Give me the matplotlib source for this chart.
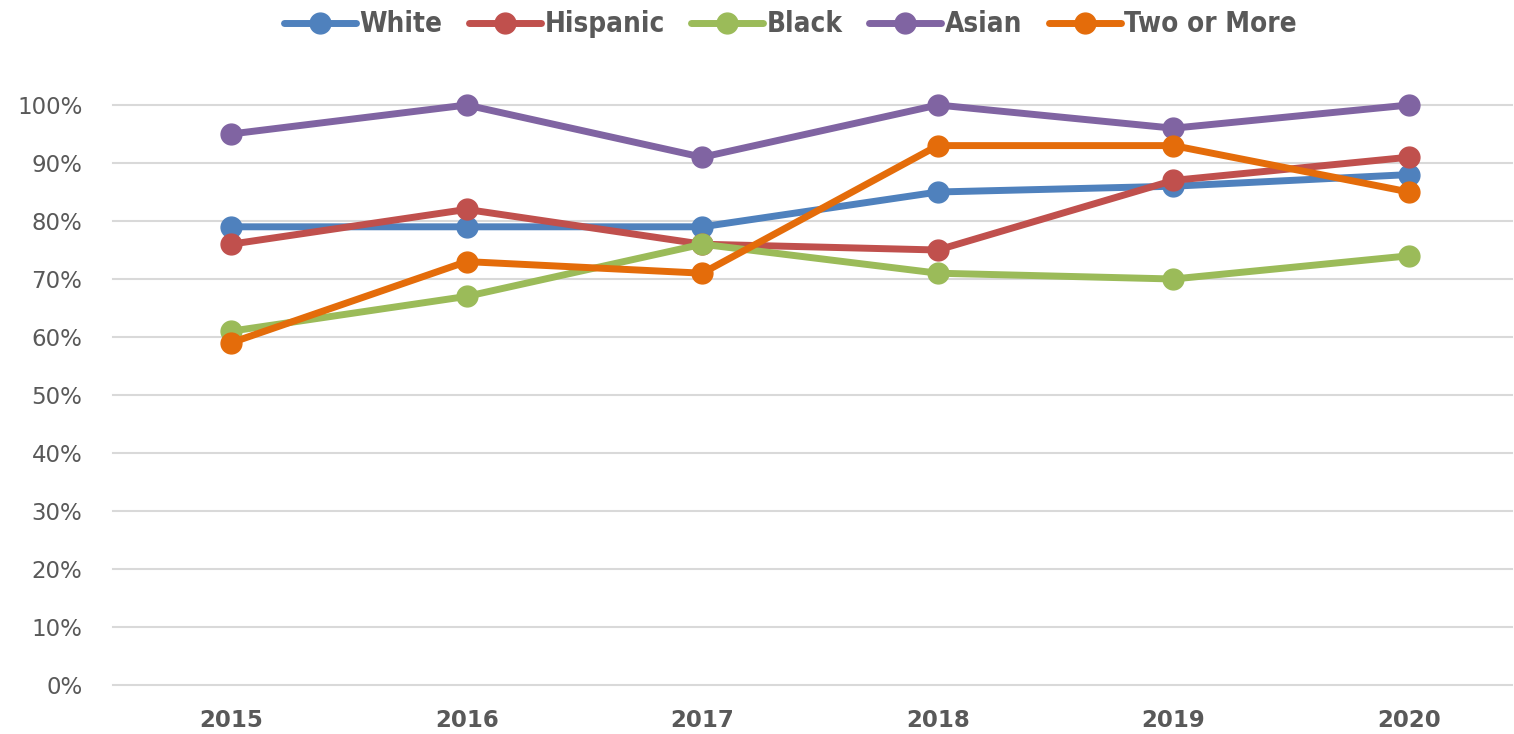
import matplotlib
matplotlib.use("Agg")
import matplotlib.pyplot as plt
from matplotlib.ticker import FuncFormatter

# ===== data =====
years = ["2015", "2016", "2017", "2018", "2019", "2020"]
white    = [79, 79, 79, 85, 86, 88]
hispanic = [76, 82, 76, 75, 87, 91]
black    = [61, 67, 76, 71, 70, 74]
asian    = [95, 100, 91, 100, 96, 100]
two_more = [59, 73, 71, 93, 93, 85]

series_names  = ["White", "Hispanic", "Black", "Asian", "Two or More"]
series_values = [white, hispanic, black, asian, two_more]
series_colors = ["#4F81BD", "#C0504D", "#9BBB59", "#8064A2", "#E46C0A"]
# =======================================

TEXT = "#595959"
GRID = "#D9D9D9"


def main():
    fig = plt.figure(figsize=(15.14, 7.34), dpi=100)
    ax = fig.add_axes([113 / 1514, 49 / 734, (1512 - 113) / 1514, (685 - 105) / 734])

    x = list(range(len(years)))
    for name, vals, col in zip(series_names, series_values, series_colors):
        ax.plot(x, vals, color=col, lw=5, marker="o", ms=15,
                label=name, clip_on=False, solid_capstyle="round")

    ax.set_ylim(0, 100)
    ax.set_xlim(-0.501, 5.437)
    ax.set_yticks(range(0, 101, 10))
    ax.yaxis.set_major_formatter(FuncFormatter(lambda v, p: f"{int(v)}%"))
    ax.set_xticks(x)
    ax.set_xticklabels(years, fontweight="bold")

    ax.grid(axis="y", color=GRID, lw=1.5)
    for gl in ax.get_ygridlines():
        gl.set_clip_on(False)
    ax.set_axisbelow(True)
    for s in ax.spines.values():
        s.set_visible(False)
    ax.tick_params(axis="both", length=0, colors=TEXT, labelsize=16.5)
    ax.tick_params(axis="y", pad=22)
    ax.tick_params(axis="x", pad=17)

    leg = fig.legend(loc="upper center", bbox_to_anchor=(0.522, 1.02), ncol=5,
                     frameon=False, handlelength=2.6, handletextpad=0.12,
                     columnspacing=0.95,
                     prop={"family": "DejaVu Sans", "weight": "bold",
                           "stretch": "condensed", "size": 20})
    for t in leg.get_texts():
        t.set_color(TEXT)

    fig.savefig("out.png", dpi=100)
    plt.close(fig)


if __name__ == "__main__":
    main()
